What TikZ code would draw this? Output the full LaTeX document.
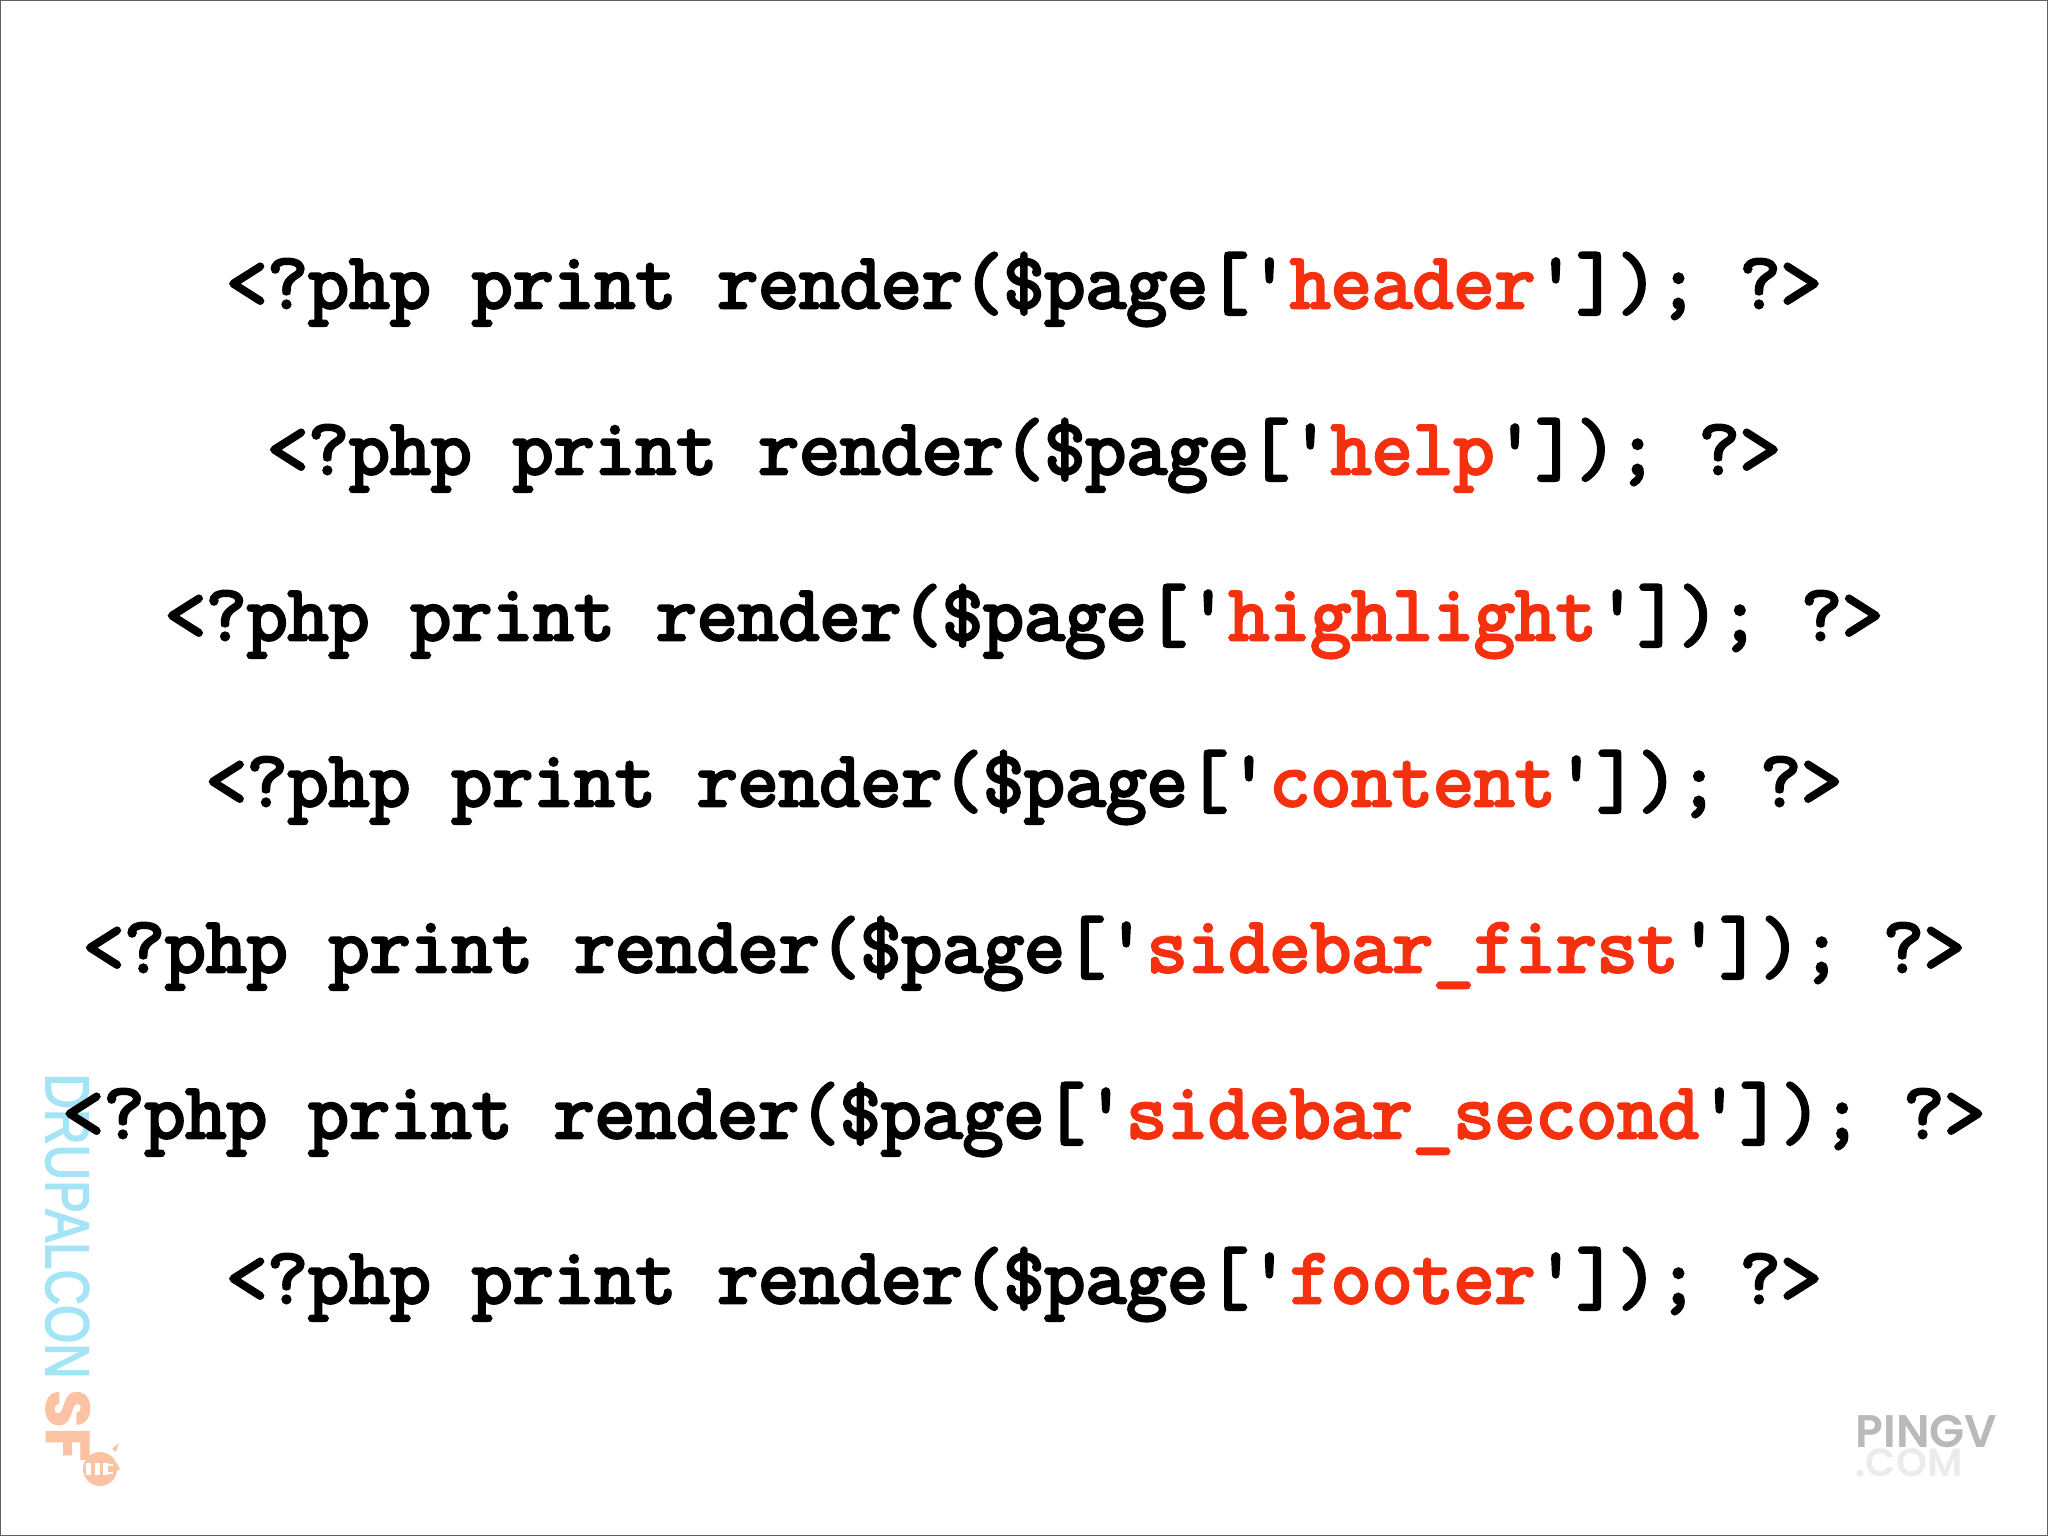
\documentclass[tikz,border=0pt]{standalone}
\usepackage{fontspec}
\usepackage{xcolor}
\usepackage{tikz}
\newfontfamily\codefont[FakeBold=3.6]{Latin Modern Mono}
\newfontfamily\confont[FakeBold=2.6]{Liberation Sans}
\newfontfamily\sffont[FakeBold=1.5]{Poppins Bold}
\newfontfamily\pingfont{Poppins SemiBold}
\definecolor{codered}{HTML}{F5300F}
\definecolor{conblue}{HTML}{A5E3F7}
\definecolor{conorange}{HTML}{FBC3A4}
\definecolor{pinggray}{HTML}{B9B9BC}
\definecolor{comgray}{HTML}{EBEBED}
\definecolor{framegray}{HTML}{606060}
\newcommand{\phpline}[1]{<?php print render(\$page['\textcolor{codered}{#1}']); ?>}
\tikzset{
    codeline/.style={anchor=base, inner sep=0, font=\codefont\fontsize{22.6}{26}\selectfont},
    conmark/.style={anchor=base west, inner sep=0, rotate=-90, text=conblue, xscale=0.8,
        font=\confont\fontsize{17.5}{20}\selectfont},
    sfmark/.style={anchor=base west, inner sep=0, rotate=-90, text=conorange,
        font=\sffont\fontsize{17.5}{20}\selectfont},
    pingmark/.style={anchor=base west, inner sep=0}
}
\begin{document}
\begin{tikzpicture}
        \useasboundingbox (0, 0) rectangle (20.48, 15.36);
        \fill [white] (0, 0) rectangle (20.48, 15.36);
        % watermarks
        \node [conmark] (drupalcon) at (0.46, 4.63) {DRUPALCON};
        \node [sfmark] (sf) at (0.46, 1.47) {SF};
        \fill [conorange] (1.0, 0.67) circle (0.17);
        \fill [conorange] (1.13, 0.79) -- (1.2, 0.67) -- (1.1, 0.6) -- cycle;
        \fill [conorange] (1.12, 0.87) -- (1.19, 0.93) -- (1.16, 0.84) -- cycle;
        \foreach \x in {0.86, 0.95, 1.03}
            \fill [white] (\x, 0.61) rectangle ++(0.05, 0.12);
        \fill [white] (1.03, 0.70) rectangle (1.13, 0.72);
        \fill [white] (1.03, 0.62) rectangle (1.13, 0.64);
        \node [pingmark, text=pinggray, font=\pingfont\fontsize{13}{15}\selectfont] (pingv) at (18.55, 0.88) {PINGV};
        \node [pingmark, text=comgray, font=\pingfont\fontsize{11.2}{13}\selectfont] (pingcom) at (18.55, 0.59) {.COM};
        % code lines
        \foreach \name/\ypos/\region in {header/12.28/header, help/10.62/help,
            highlight/8.96/highlight, content/7.30/content, first/5.64/sidebar\_first,
            second/3.98/sidebar\_second, footer/2.33/footer}
            \node [codeline] (\name) at (10.24, \ypos) {\phpline{\region}};
        % frame
        \draw [framegray, line width=0.6pt] (0, 0) rectangle (20.48, 15.36);
    \end{tikzpicture}
\end{document}
